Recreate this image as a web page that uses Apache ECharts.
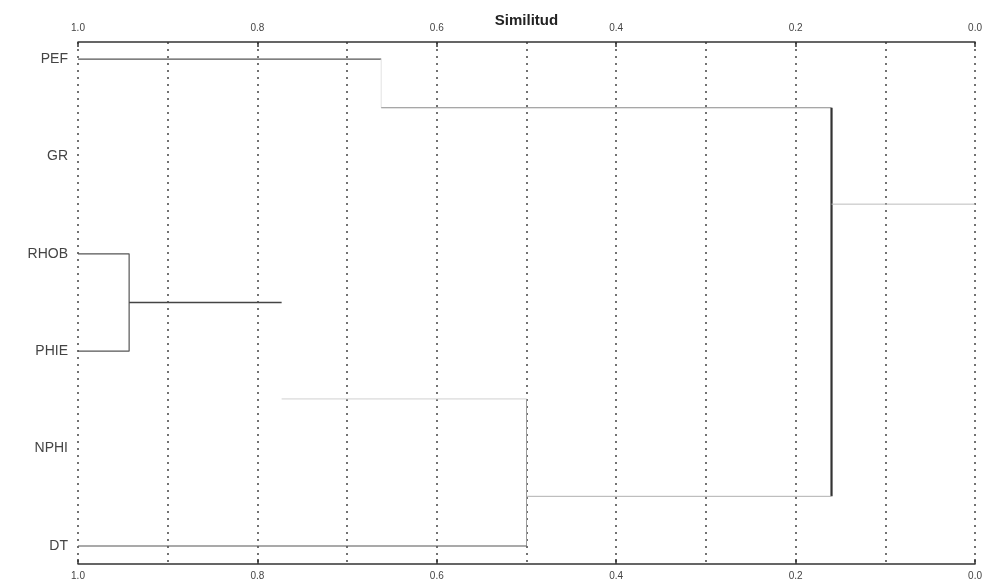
<!DOCTYPE html>
<html>
<head>
<meta charset="utf-8">
<script src="https://cdn.jsdelivr.net/npm/echarts@6/dist/echarts.min.js"></script>
<style>
html,body{margin:0;padding:0;background:#fff;}
#chart{width:985px;height:583px;}
</style>
</head>
<body>
<div id="chart"></div>
<script>
// hojas del dendrograma (de arriba a abajo)
var leaves = ['PEF', 'GR', 'RHOB', 'PHIE', 'NPHI', 'DT'];
var leafRows = [0, 1, 2, 3, 4, 5];

// ramas: pares [similitud, fila]
var branchPaths = [
	[[1.0, 0], [0.662, 0]],                          // PEF
	[[0.662, 0], [0.662, 0.5]],                      // PEF-GR
	[[0.662, 0.5], [0.16, 0.5]],
	[[0.16, 0.5], [0.16, 4.49]],
	[[0.16, 1.49], [0.0, 1.49]],                     // raiz
	[[1.0, 2], [0.943, 2], [0.943, 3], [1.0, 3]],    // RHOB-PHIE
	[[0.943, 2.5], [0.773, 2.5]],
	[[0.773, 3.49], [0.5, 3.49]],
	[[0.5, 3.49], [0.5, 5]],
	[[1.0, 5], [0.5, 5]],                            // DT
	[[0.5, 4.49], [0.16, 4.49]]
];
var tickValues = [0, 0.2, 0.4, 0.6, 0.8, 1.0];

// estilo de cada rama
var branchColors = ['#555', '#e2e2e2', '#8a8a8a', '#333', '#bdbdbd', '#555', '#444', '#d0d0d0', '#9a9a9a', '#555', '#b0b0b0'];
var branchWidths = [1.2, 1, 1.2, 2.2, 1, 1.2, 1.3, 1, 1, 1.2, 1];

var chart = echarts.init(document.getElementById('chart'));

function xaxis(pos)
{
	return {
		type: 'value',
		position: pos,
		inverse: true,
		min: 0,
		max: 1,
		interval: 0.1,
		name: pos == 'top' ? 'Similitud' : '',
		nameLocation: 'middle',
		nameGap: 14,
		nameMoveOverlap: false,
		nameTextStyle: {fontSize: 15, fontWeight: 'bold', color: '#222', fontFamily: 'Liberation Sans'},
		axisLine: {show: true, onZero: false, lineStyle: {color: '#333', width: 1.5}},
		axisTick: {show: true, inside: true, length: 5, customValues: tickValues, lineStyle: {color: '#333', width: 1.5}},
		axisLabel: {
			show: true,
			customValues: tickValues,
			margin: pos == 'top' ? 9 : 7,
			fontSize: 10,
			color: '#444',
			fontFamily: 'Liberation Sans',
			formatter: function (v) { return v.toFixed(1); }
		},
		splitLine: {show: false}
	};
}

// eje oculto solo para las lineas punteadas cada 0.1
var gridAxis = {
	type: 'value',
	position: 'bottom',
	inverse: true,
	min: 0,
	max: 1,
	interval: 0.1,
	axisLine: {show: false, onZero: false},
	axisTick: {show: false},
	axisLabel: {show: false},
	splitLine: {show: true, lineStyle: {color: '#444', type: [2, 5], width: 1.5}}
};

var seriesData = [];
for (var i = 0; i < branchPaths.length; i++)
{
	seriesData.push({
		type: 'line',
		data: branchPaths[i],
		xAxisIndex: 0,
		symbol: 'none',
		silent: true,
		animation: false,
		lineStyle: {color: branchColors[i], width: branchWidths[i]}
	});
}

var option = {
	backgroundColor: '#fff',
	animation: false,
	grid: {left: 78, right: 5, top: 42, bottom: 19},
	xAxis: [xaxis('top'), xaxis('bottom'), gridAxis],
	yAxis: {
		type: 'value',
		inverse: true,
		min: -0.175,
		max: 5.185,
		axisLine: {show: false},
		axisTick: {show: false},
		splitLine: {show: false},
		axisLabel: {
			show: true,
			customValues: leafRows,
			margin: 10,
			fontSize: 14,
			color: '#444',
			fontFamily: 'Liberation Sans',
			formatter: function (v) { return leaves[Math.round(v)]; }
		}
	},
	series: seriesData
};
chart.setOption(option);
</script>
</body>
</html>
